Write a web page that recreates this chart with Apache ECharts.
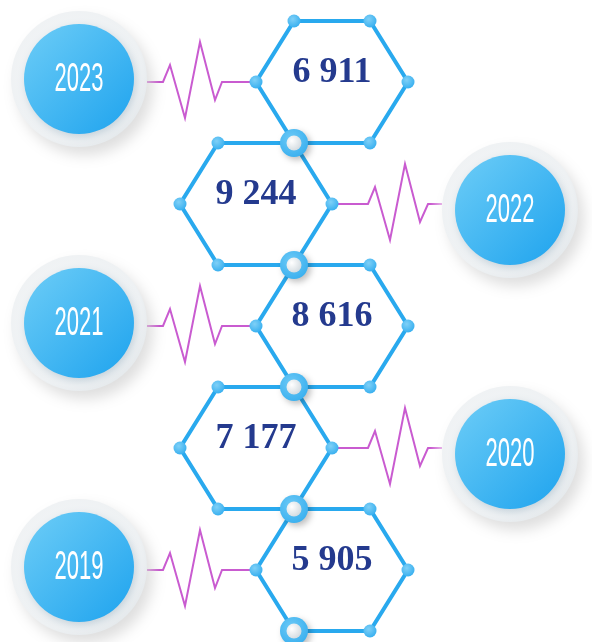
<!DOCTYPE html>
<html>
<head>
<meta charset="utf-8">
<title>Hex timeline</title>
<script src="https://cdn.jsdelivr.net/npm/echarts@6/dist/echarts.min.js"></script>
<style>
  html, body { margin: 0; padding: 0; background: #fff; }
  #main { width: 592px; height: 642px; }
</style>
</head>
<body>
<div id="main"></div>
<script>
// data
var years = ['2023', '2022', '2021', '2020', '2019'];
var values = [6911, 9244, 8616, 7177, 5905];

var chart = echarts.init(document.getElementById('main'));

// layout of the honeycomb
var colX = [332, 256];      // hex centre x, right / left column
var R = 76, H = 61, A = 38; // hex half width, half height, half edge
var hexBlue = '#29a9ee';
var zigColor = '#c95bd0';

function fmt(v) {
  return String(v).replace(/\B(?=(\d{3})+(?!\d))/g, ' ');
}

function dot(x, y) {
  return {
    type: 'circle', z2: 5,
    shape: { cx: x, cy: y, r: 6.5 },
    style: {
      fill: new echarts.graphic.RadialGradient(0.4, 0.35, 0.7, [
        { offset: 0, color: '#7fd0f7' },
        { offset: 1, color: '#35aeef' }
      ])
    }
  };
}

function ring(x, y) {
  return [{
    type: 'circle', z2: 10,
    shape: { cx: x, cy: y, r: 14 },
    style: {
      fill: new echarts.graphic.RadialGradient(0.4, 0.35, 0.8, [
        { offset: 0, color: '#6cc9f6' },
        { offset: 1, color: '#32acee' }
      ]),
      shadowBlur: 6, shadowOffsetX: 3, shadowOffsetY: 3,
      shadowColor: 'rgba(0,0,0,0.25)'
    }
  }, {
    type: 'circle', z2: 11,
    shape: { cx: x, cy: y, r: 7.5 },
    style: {
      fill: new echarts.graphic.RadialGradient(0.35, 0.35, 0.8, [
        { offset: 0, color: '#ffffff' },
        { offset: 1, color: '#cdd6dc' }
      ])
    }
  }];
}

function badge(x, y, text) {
  return [{
    type: 'circle', z2: 2,
    shape: { cx: x, cy: y, r: 68 },
    style: {
      fill: new echarts.graphic.RadialGradient(0.45, 0.45, 0.6, [
        { offset: 0, color: '#f7f8f9' },
        { offset: 0.85, color: '#eef1f3' },
        { offset: 1, color: '#e1e6e9' }
      ]),
      shadowBlur: 14, shadowOffsetX: 6, shadowOffsetY: 8,
      shadowColor: 'rgba(0,0,0,0.13)'
    }
  }, {
    type: 'circle', z2: 3,
    shape: { cx: x, cy: y, r: 55 },
    style: {
      fill: new echarts.graphic.LinearGradient(0, 0, 1, 1, [
        { offset: 0, color: '#6dcdf7' },
        { offset: 1, color: '#1ea3ee' }
      ]),
      shadowBlur: 8, shadowOffsetX: 2, shadowOffsetY: 3,
      shadowColor: 'rgba(0,60,100,0.18)'
    }
  }, {
    type: 'text', z2: 4,
    x: x, y: y + 1, scaleX: 0.55,
    style: {
      text: text, x: 0, y: 0,
      fill: '#ffffff',
      font: '40px "Liberation Sans", sans-serif',
      align: 'center', verticalAlign: 'middle'
    }
  }];
}

function zigzag(x0, y, flip) {
  // zigzag pulse, drawn left to right from x0
  var pts = [[0, 0], [16, 0], [23, -17], [38, 36], [53, -40], [68, 18], [75, 0], [109, 0]];
  if (flip) {
    pts = [[0, 0], [36, 0], [43, -17], [58, 36], [73, -40], [88, 18], [96, 0], [110, 0]];
  }
  var fade = flip
    ? [{ offset: 0, color: zigColor }, { offset: 0.88, color: zigColor }, { offset: 1, color: '#efc9ef' }]
    : [{ offset: 0, color: '#efc9ef' }, { offset: 0.13, color: zigColor }, { offset: 1, color: zigColor }];
  return {
    type: 'polyline', z2: 1,
    shape: { points: pts.map(function (p) { return [x0 + p[0], y + p[1]]; }) },
    style: {
      fill: 'none', lineWidth: 2,
      stroke: new echarts.graphic.LinearGradient(0, 0, 1, 0, fade)
    }
  };
}

function renderItem(params, api) {
  var i = params.dataIndex;
  var left = i % 2 === 1;
  var cx = api.coord([colX[i % 2], i])[0];
  var cy = api.coord([colX[i % 2], i])[1];
  var v = [
    [cx - A, cy - H], [cx + A, cy - H], [cx + R, cy],
    [cx + A, cy + H], [cx - A, cy + H], [cx - R, cy]
  ];
  var children = [{
    type: 'polygon', z2: 1,
    shape: { points: v },
    style: { fill: 'none', stroke: hexBlue, lineWidth: 4 }
  }, {
    type: 'text', z2: 6,
    x: cx, y: cy - 9,
    style: {
      text: fmt(api.value(0)),
      fill: '#243a8e',
      font: 'bold 36px "Liberation Serif", "Times New Roman", serif',
      align: 'center', verticalAlign: 'middle'
    }
  }];
  v.forEach(function (p) { children.push(dot(p[0], p[1])); });
  // shared vertex on the x=294 column below this hex
  var shared = left ? v[3] : v[4];
  children = children.concat(ring(shared[0], shared[1]));

  if (left) {
    children.push(zigzag(cx + R, cy, true));
    children = children.concat(badge(510, cy + 6, years[i]));
  } else {
    children.push(zigzag(cx - R - 109, cy, false));
    children = children.concat(badge(79, cy - 3, years[i]));
  }
  return { type: 'group', children: children };
}

var option = {
  backgroundColor: '#ffffff',
  animation: false,
  grid: { left: 0, right: 0, top: 21, height: 610 },
  xAxis: { type: 'value', min: 0, max: 592, show: false },
  yAxis: { type: 'category', data: years, inverse: true, show: false },
  series: [{
    type: 'custom',
    renderItem: renderItem,
    data: years.map(function (y, i) { return [values[i], y]; }),
    encode: { x: -1, y: 1 },
    clip: false
  }]
};

chart.setOption(option);
</script>
</body>
</html>
